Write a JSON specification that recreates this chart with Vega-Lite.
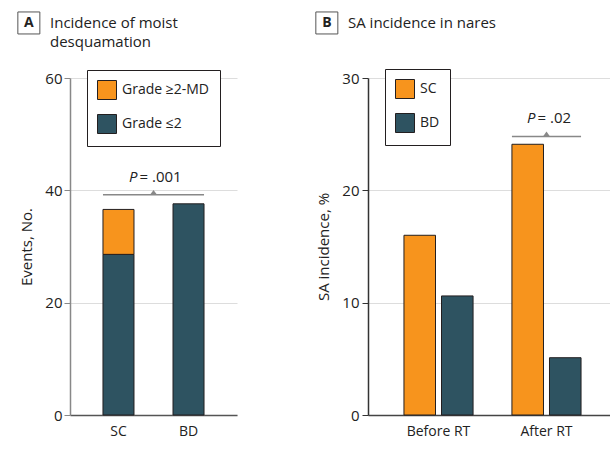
{
  "$schema": "https://vega.github.io/schema/vega-lite/v6.json",
  "autosize": {"type": "pad"},
  "padding": {"left": 15, "top": 9, "right": 0, "bottom": 0},
  "background": "white",
  "bounds": "flush",
  "spacing": 131,
  "config": {
    "font": "Open Sans",
    "view": {"stroke": null},
    "axis": {
      "labelFontSize": 15,
      "titleFontSize": 15,
      "titleFontWeight": "normal",
      "labelColor": "#222",
      "titleColor": "#222",
      "gridColor": "#dddddd",
      "gridWidth": 1
    },
    "title": {"fontSize": 15, "fontWeight": "normal", "color": "#222", "anchor": "start", "frame": "group", "dx": -20, "lineHeight": 18.5, "baseline": "top"},
    "legend": {
      "orient": "none",
      "title": null,
      "symbolType": "square",
      "symbolSize": 361,
      "symbolStrokeColor": "#231f20",
      "symbolStrokeWidth": 1,
      "symbolOpacity": 1,
      "labelFontSize": 14,
      "labelColor": "#222",
      "strokeColor": "#231f20",
      "fillColor": "white",
      "padding": 10,
      "rowPadding": 10,
      "labelOffset": 5
    }
  },
  "resolve": {"scale": {"color": "independent"}, "legend": {"color": "independent"}},
  "hconcat": [
    {
      "width": 167,
      "height": 337,
      "title": {"text": ["Incidence of moist", "desquamation"], "offset": -40},
      "layer": [
        {
          "data": {"values": [
            {"group": "SC", "grade": "Grade ≤2", "events": 28.6},
            {"group": "SC", "grade": "Grade ≥2-MD", "events": 8.0},
            {"group": "BD", "grade": "Grade ≤2", "events": 37.6}
          ]},
          "mark": {"type": "bar", "stroke": "#231f20", "strokeWidth": 1},
          "encoding": {
            "x": {"field": "group", "type": "nominal", "title": null,
              "scale": {"domain": ["SC", "BD"], "paddingInner": 0.557, "paddingOuter": 0.471},
              "axis": {"labelAngle": 0, "ticks": false, "domainColor": "#555", "domainWidth": 1.5, "labelPadding": 9, "labelFontSize": 14, "grid": false}},
            "y": {"field": "events", "type": "quantitative", "stack": "zero", "title": "Events, No.",
              "scale": {"domain": [0, 60], "nice": false},
              "axis": {"values": [0, 20, 40, 60], "domainColor": "#888", "domainWidth": 1.5, "tickColor": "#888", "tickSize": 6, "labelPadding": 2, "titlePadding": 10, "grid": true}},
            "color": {"field": "grade", "type": "nominal",
              "scale": {"domain": ["Grade ≥2-MD", "Grade ≤2"], "range": ["#f7941d", "#2e5361"]},
              "legend": {"legendX": 17, "legendY": -8}},
            "order": {"field": "grade", "sort": "ascending"}
          }
        },
        {
          "data": {"values": [{"from": "SC", "to": "BD", "p": 39.2, "label": "= .001"}]},
          "layer": [
            {
              "mark": {"type": "rule", "color": "#888", "strokeWidth": 1.5},
              "encoding": {
                "x": {"field": "from", "type": "nominal", "bandPosition": 0},
                "x2": {"field": "to", "bandPosition": 1},
                "y": {"field": "p", "type": "quantitative", "title": "Events, No."}
              }
            },
            {
              "mark": {"type": "point", "shape": "M-1,0L0,-1.4L1,0Z", "filled": true, "size": 49, "color": "#888", "opacity": 1},
              "encoding": {
                "x": {"field": "from", "type": "nominal", "bandPosition": 1.63},
                "y": {"field": "p", "type": "quantitative", "title": "Events, No."}
              }
            },
            {
              "mark": {"type": "text", "text": "P", "fontStyle": "italic", "fontSize": 15, "align": "right", "dx": -16, "dy": -13, "baseline": "alphabetic", "color": "#222"},
              "encoding": {
                "x": {"field": "from", "type": "nominal", "bandPosition": 1.63},
                "y": {"field": "p", "type": "quantitative", "title": "Events, No."}
              }
            },
            {
              "mark": {"type": "text", "fontSize": 15, "align": "left", "dx": -14, "dy": -13, "baseline": "alphabetic", "color": "#222"},
              "encoding": {
                "x": {"field": "from", "type": "nominal", "bandPosition": 1.63},
                "y": {"field": "p", "type": "quantitative", "title": "Events, No."},
                "text": {"field": "label"}
              }
            }
          ]
        },
        {
          "data": {"values": [{"panel": "A", "at": "SC", "level": 69.8}]},
          "layer": [
            {
              "mark": {"type": "point", "shape": "square", "size": 484, "filled": false, "stroke": "#555", "strokeWidth": 1, "opacity": 1},
              "encoding": {
                "x": {"field": "at", "type": "nominal", "bandPosition": -2.39},
                "y": {"field": "level", "type": "quantitative", "title": "Events, No."}
              }
            },
            {
              "mark": {"type": "text", "fontSize": 14, "fontWeight": "bold", "baseline": "middle", "align": "center", "color": "#222"},
              "encoding": {
                "x": {"field": "at", "type": "nominal", "bandPosition": -2.39},
                "y": {"field": "level", "type": "quantitative", "title": "Events, No."},
                "text": {"field": "panel"}
              }
            }
          ]
        }
      ]
    },
    {
      "width": 249,
      "height": 337,
      "title": {"text": "SA incidence in nares", "offset": -21.5},
      "layer": [
        {
          "data": {"values": [
            {"time": "Before RT", "arm": "SC", "pct": 16.0},
            {"time": "Before RT", "arm": "BD", "pct": 10.6},
            {"time": "After RT", "arm": "SC", "pct": 24.1},
            {"time": "After RT", "arm": "BD", "pct": 5.1}
          ]},
          "mark": {"type": "bar", "stroke": "#231f20", "strokeWidth": 1},
          "encoding": {
            "x": {"field": "time", "type": "nominal", "title": null,
              "scale": {"domain": ["Before RT", "After RT"], "paddingInner": 0.36, "paddingOuter": 0.333},
              "axis": {"labelAngle": 0, "ticks": false, "domainColor": "#444", "domainWidth": 1.5, "labelPadding": 9, "labelFontSize": 14, "grid": false}},
            "xOffset": {"field": "arm", "type": "nominal", "scale": {"domain": ["SC", "BD"], "paddingInner": 0.16, "paddingOuter": 0}},
            "y": {"field": "pct", "type": "quantitative", "title": "SA incidence, %",
              "scale": {"domain": [0, 30], "nice": false},
              "axis": {"values": [0, 10, 20, 30], "domainColor": "#333", "domainWidth": 1.5, "tickColor": "#333", "tickSize": 6, "labelPadding": 3, "titlePadding": 10, "grid": true}},
            "color": {"field": "arm", "type": "nominal",
              "scale": {"domain": ["SC", "BD"], "range": ["#f7941d", "#2e5361"]},
              "legend": {"legendX": 17, "legendY": -9}}
          }
        },
        {
          "data": {"values": [{"at": "After RT", "p": 24.8, "label": "= .02"}]},
          "layer": [
            {
              "mark": {"type": "rule", "color": "#888", "strokeWidth": 1.5},
              "encoding": {
                "x": {"field": "at", "type": "nominal", "bandPosition": 0},
                "x2": {"field": "at", "bandPosition": 1},
                "y": {"field": "p", "type": "quantitative", "title": "SA incidence, %"}
              }
            },
            {
              "mark": {"type": "point", "shape": "M-1,0L0,-1.4L1,0Z", "filled": true, "size": 49, "color": "#888", "opacity": 1},
              "encoding": {
                "x": {"field": "at", "type": "nominal", "bandPosition": 0.5},
                "y": {"field": "p", "type": "quantitative", "title": "SA incidence, %"}
              }
            },
            {
              "mark": {"type": "text", "text": "P", "fontStyle": "italic", "fontSize": 15, "align": "right", "dx": -11, "dy": -13, "baseline": "alphabetic", "color": "#222"},
              "encoding": {
                "x": {"field": "at", "type": "nominal", "bandPosition": 0.5},
                "y": {"field": "p", "type": "quantitative", "title": "SA incidence, %"}
              }
            },
            {
              "mark": {"type": "text", "fontSize": 15, "align": "left", "dx": -9, "dy": -13, "baseline": "alphabetic", "color": "#222"},
              "encoding": {
                "x": {"field": "at", "type": "nominal", "bandPosition": 0.5},
                "y": {"field": "p", "type": "quantitative", "title": "SA incidence, %"},
                "text": {"field": "label"}
              }
            }
          ]
        },
        {
          "data": {"values": [{"panel": "B", "at": "Before RT", "level": 34.9}]},
          "layer": [
            {
              "mark": {"type": "point", "shape": "square", "size": 484, "filled": false, "stroke": "#555", "strokeWidth": 1, "opacity": 1},
              "encoding": {
                "x": {"field": "at", "type": "nominal", "bandPosition": -1.116},
                "y": {"field": "level", "type": "quantitative", "title": "SA incidence, %"}
              }
            },
            {
              "mark": {"type": "text", "fontSize": 14, "fontWeight": "bold", "baseline": "middle", "align": "center", "color": "#222"},
              "encoding": {
                "x": {"field": "at", "type": "nominal", "bandPosition": -1.116},
                "y": {"field": "level", "type": "quantitative", "title": "SA incidence, %"},
                "text": {"field": "panel"}
              }
            }
          ]
        }
      ]
    }
  ]
}
